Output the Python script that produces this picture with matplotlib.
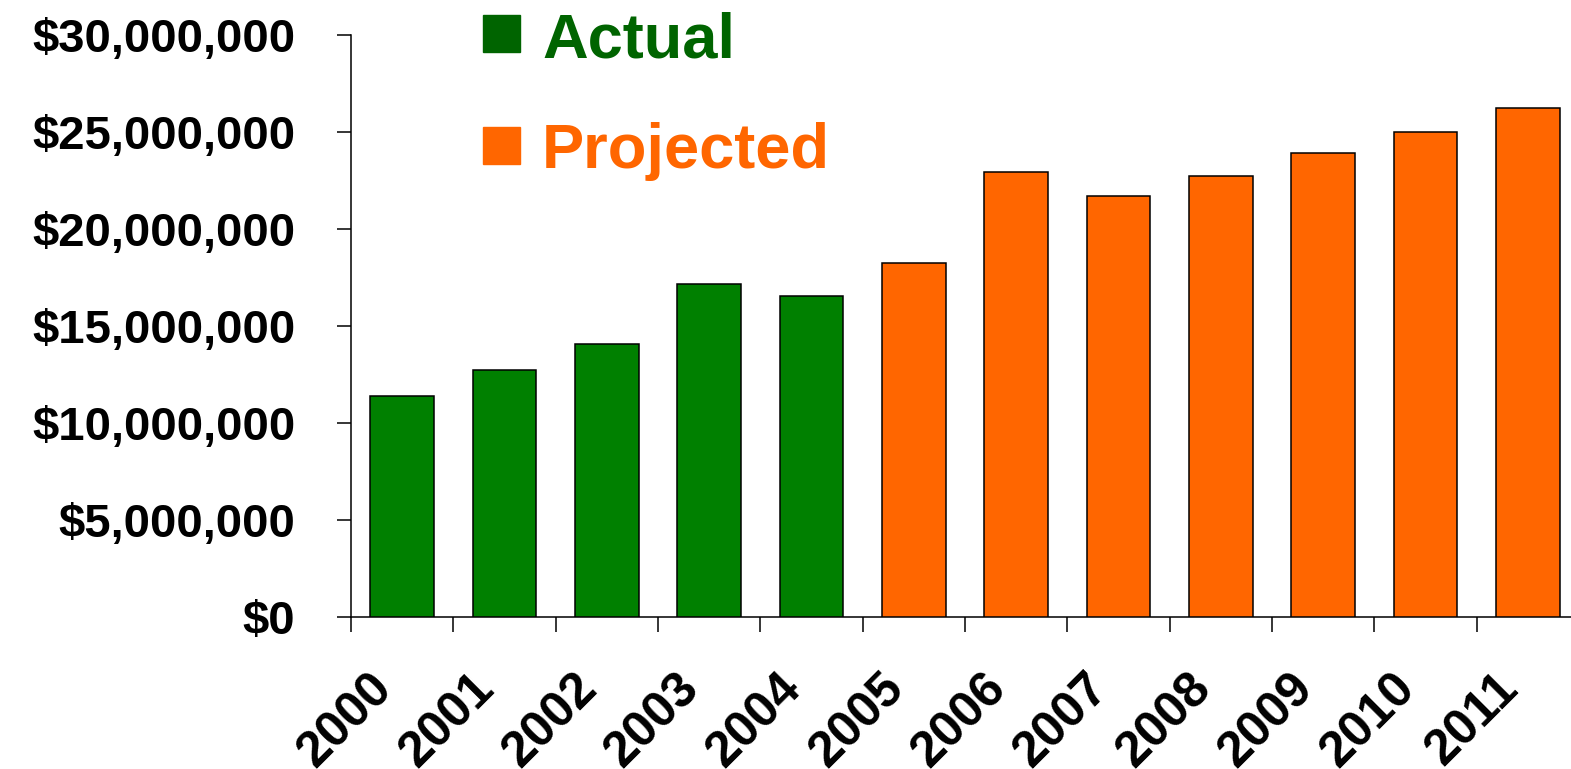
import matplotlib
matplotlib.use("Agg")
import matplotlib.pyplot as plt
from matplotlib.ticker import FuncFormatter, FixedLocator
import matplotlib.patches as mpatches

years = ["2000", "2001", "2002", "2003", "2004", "2005",
         "2006", "2007", "2008", "2009", "2010", "2011"]
values = [11.41e6, 12.73e6, 14.07e6, 17.16e6, 16.56e6, 18.25e6,
          22.94e6, 21.70e6, 22.73e6, 23.92e6, 25.02e6, 26.25e6]
status = ["Actual"] * 5 + ["Projected"] * 7
yticks = [0, 5e6, 10e6, 15e6, 20e6, 25e6, 30e6]

bar_colors = {"Actual": "#008000", "Projected": "#FF6600"}
legend_colors = {"Actual": "#006400", "Projected": "#FF6600"}

plt.rcParams['font.family'] = ['Liberation Sans', 'DejaVu Sans']
plt.rcParams['font.weight'] = 'bold'

W, H = 1571, 769
fig = plt.figure(figsize=(W / 100, H / 100), dpi=100)
left, right, top, bottom = 351, 1579, 35, 617
ax = fig.add_axes([left / W, 1 - bottom / H, (right - left) / W, (bottom - top) / H])

x = list(range(len(years)))
ax.bar(x, values, width=0.62, color=[bar_colors[s] for s in status],
       edgecolor="black", linewidth=1.1, zorder=3)

ax.set_xlim(-0.5, len(years) - 0.5)
ax.set_ylim(0, 30e6)
ax.set_yticks(yticks)
ax.yaxis.set_major_formatter(FuncFormatter(lambda v, p: "${:,.0f}".format(v)))
ax.tick_params(axis='y', length=10, width=1.1, pad=30, labelsize=34, direction='out')

# boundaries as major ticks, labels near centers as minor ticks
label_shift = 0.17
ax.xaxis.set_major_locator(FixedLocator([i - 0.5 for i in range(len(years) + 1)]))
ax.xaxis.set_major_formatter(FuncFormatter(lambda v, p: ""))
ax.set_xticks([i - label_shift for i in x], minor=True)
ax.set_xticklabels(years, minor=True, rotation=45, ha='right', va='center',
                   rotation_mode='anchor', fontsize=36, fontweight='bold')
ax.tick_params(axis='x', which='major', length=11, width=1.1, direction='out')
ax.tick_params(axis='x', which='minor', length=0, pad=46)

for s in ['top', 'right']:
    ax.spines[s].set_visible(False)
for s in ['left', 'bottom']:
    ax.spines[s].set_linewidth(1.1)
for lbl in ax.get_yticklabels():
    lbl.set_fontweight('bold')

# legend: squares and text placed in figure pixel coordinates
def fx(px):
    return px / W

def fy(py):
    return 1 - py / H

for name, sq_top, text_base in [("Actual", 15, 57), ("Projected", 127, 168)]:
    fig.patches.append(mpatches.Rectangle((fx(483), fy(sq_top + 37)), 37 / W, 37 / H,
                                          transform=fig.transFigure,
                                          color=legend_colors[name], zorder=5))
    fig.text(fx(542), fy(text_base), name, color=legend_colors[name], fontsize=45.5,
             fontweight='bold', ha='left', va='baseline')

fig.savefig("out.png", dpi=100)
